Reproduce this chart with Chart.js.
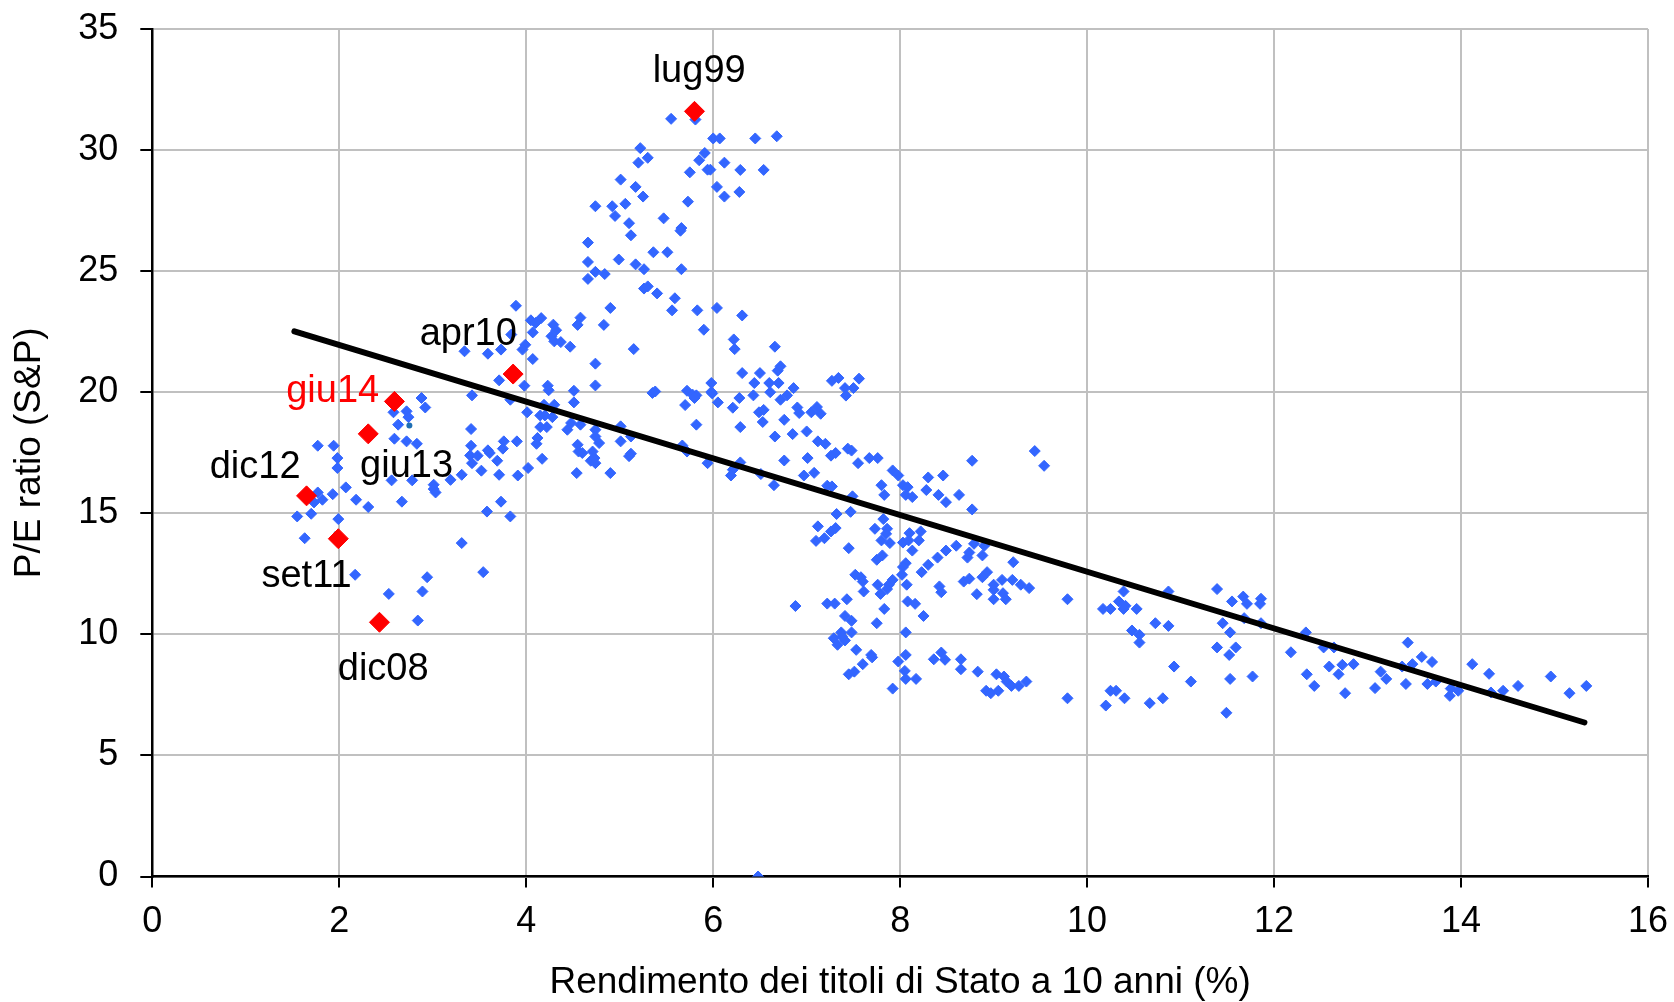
<!DOCTYPE html>
<html>
<head>
<meta charset="utf-8">
<script src="https://cdn.jsdelivr.net/npm/chart.js@4.4.1/dist/chart.umd.min.js"></script>
<style>
  html, body { margin: 0; padding: 0; background: #fff; }
  #wrap { width: 1674px; height: 1002px; }
</style>
</head>
<body>
<div id="wrap"><canvas id="pe" width="1674" height="1002"></canvas></div>
<script>
// monthly observations: [10y bond yield %, S&P P/E]
const history = [
  [3.89,23.57],[4.05,22.97],[4.10,22.86],[4.16,23.06],[4.29,22.79],[4.32,22.56],[4.27,22.31],[4.30,22.10],
  [4.07,22.47],[3.84,22.38],[3.99,21.96],[3.96,21.76],[3.73,21.76],[3.59,21.59],[3.34,21.69],[4.07,21.37],
  [3.71,20.49],[3.98,20.27],[4.23,20.27],[4.24,20.08],[3.83,19.69],[3.42,19.87],[2.88,19.76],[2.92,19.37],
  [2.58,19.17],[2.72,19.21],[2.74,18.97],[2.63,18.66],[4.01,19.17],[4.15,19.04],[4.20,19.04],[4.28,18.97],
  [4.15,18.56],[4.22,18.56],[3.41,18.48],[2.59,18.08],[2.72,17.97],[2.83,17.87],[1.77,17.79],[1.94,17.79],
  [1.98,17.28],[1.98,16.87],[3.76,17.97],[3.90,17.97],[4.12,18.11],[4.11,17.87],[3.41,17.79],[3.59,17.60],
  [3.61,17.49],[3.75,17.67],[3.40,17.39],[3.48,17.38],[3.42,17.07],[3.69,17.17],[4.17,17.25],[4.02,16.87],
  [3.52,16.76],[3.71,16.59],[3.91,16.56],[3.31,16.59],[3.19,16.38],[3.01,16.18],[3.01,16.00],[3.03,15.86],
  [2.78,16.36],[2.56,16.36],[2.07,16.07],[1.93,15.79],[1.77,15.86],[1.82,15.56],[1.73,15.45],[2.18,15.56],
  [2.31,15.26],[2.67,15.48],[1.70,14.98],[1.55,14.87],[1.99,14.76],[3.58,15.07],[3.73,15.48],[3.83,14.87],
  [1.63,13.97],[3.31,13.77],[2.17,12.46],[2.94,12.36],[2.89,11.77],[2.53,11.67],[3.54,12.57],[2.84,10.57],
  [4.19,19.48],[4.30,19.48],
  [5.55,31.29],[5.81,31.26],[6.00,30.48],[6.07,30.48],[6.45,30.48],[6.68,30.57],[5.22,30.08],[5.20,29.48],
  [5.30,29.68],[5.91,29.88],[5.85,29.58],[6.12,29.48],[5.75,29.08],[5.94,29.19],[5.97,29.19],[6.29,29.18],
  [6.54,29.18],[5.01,28.78],[5.17,28.48],[5.25,28.08],[6.04,28.48],[6.12,28.08],[6.28,28.27],[5.73,27.87],
  [4.74,27.68],[4.92,27.68],[5.06,27.78],[4.95,27.28],[5.47,27.18],[5.10,26.98],[5.66,26.78],[5.65,26.67],
  [5.12,26.48],[4.66,26.18],[5.36,25.78],[5.51,25.78],[4.99,25.48],[4.66,25.38],[5.17,25.28],[5.26,25.08],
  [5.66,25.08],[4.74,24.97],[4.84,24.88],[4.66,24.68],[5.26,24.28],[5.30,24.37],[5.40,24.08],[5.59,23.88],
  [4.90,23.48],[4.58,23.08],[4.55,22.78],[4.83,22.78],[5.56,23.38],[5.83,23.38],[6.04,23.48],[6.31,23.17],
  [5.90,22.58],[4.37,22.07],[4.47,21.88],[5.15,21.78],[6.22,22.18],[6.23,21.78],[6.66,21.88],[4.74,21.18],
  [6.31,20.79],[6.50,20.79],[6.69,20.89],[6.72,21.07],[7.27,20.47],[7.34,20.59],
  [4.51,20.06],[4.74,20.28],[5.35,19.97],[5.38,20.03],[5.72,20.06],[5.78,19.90],[5.82,19.87],[5.80,19.76],
  [5.98,20.38],[5.98,20.01],[5.99,19.95],[6.44,20.38],[6.43,19.87],[6.60,20.38],[6.70,20.38],[6.61,20.00],
  [6.72,19.69],[6.79,19.87],[6.86,20.17],[4.51,19.58],[5.70,19.47],[6.05,19.58],[6.21,19.36],[6.28,19.76],
  [6.49,19.17],[6.54,19.27],[6.90,19.37],[6.92,19.14],[7.05,19.17],[7.11,19.39],[7.15,19.11],[4.44,18.45],
  [4.48,18.73],[4.58,18.66],[4.74,18.45],[5.01,18.59],[4.74,18.17],[4.78,17.90],[5.01,17.97],[5.12,18.17],
  [4.55,17.83],[4.56,17.55],[4.60,17.49],[4.71,17.55],[4.69,17.17],[4.74,17.07],[4.73,17.28],[5.12,17.46],
  [5.10,17.36],[4.54,16.66],[4.90,16.66],[5.67,17.80],[5.72,17.55],[5.82,18.66],[5.94,17.07],[6.29,18.56],
  [6.53,18.77],[6.66,18.17],[6.76,18.86],[6.85,18.27],[7.00,18.38],[7.12,17.97],[7.20,17.87],[7.31,17.49],
  [7.26,17.38],[7.01,17.28],[6.76,17.18],[6.21,16.80],[6.19,16.56],[6.29,17.10],[6.51,16.62],[6.65,16.16],
  [6.97,16.56],[7.08,16.67],[7.22,16.14],[7.27,16.11],[7.32,14.97],[7.12,14.46],[7.31,14.39],[7.26,14.25],
  [7.10,13.86],[7.19,13.97],[6.88,11.17],[7.22,11.27],[7.30,11.27],[7.29,9.84],[7.33,9.57],
  [7.56,20.56],[7.41,20.17],[7.50,20.17],[7.42,19.86],[7.44,17.67],[7.48,17.59],[7.55,17.07],[7.67,17.28],
  [7.76,17.28],[7.92,16.77],[7.98,16.56],[7.80,16.16],[7.83,15.76],[8.03,16.16],[8.08,16.08],[8.06,15.76],
  [8.13,15.67],[8.30,16.48],[8.46,16.56],[8.28,15.96],[8.41,15.76],[8.49,15.46],[8.63,15.76],[8.77,17.17],
  [8.77,15.16],[9.44,17.57],[9.54,16.96],[7.49,15.70],[7.47,15.06],[7.73,14.36],[7.82,14.76],[7.86,14.36],
  [7.85,14.15],[7.80,13.88],[7.89,13.77],[8.03,13.79],[8.10,14.18],[8.09,13.88],[8.22,14.25],[8.20,13.88],
  [7.45,13.56],[8.13,13.46],[8.49,13.46],[8.60,13.66],[8.72,13.17],[8.74,13.38],[8.88,13.26],[8.79,13.74],
  [8.90,13.66],[7.75,13.08],[7.81,13.26],[8.06,12.94],[8.03,12.78],[8.02,12.46],[8.40,13.17],[8.30,12.87],
  [8.23,12.57],[9.21,12.98],[8.93,12.57],[8.88,12.36],[7.52,12.46],[7.58,12.36],[7.60,12.18],[7.76,12.05],
  [7.88,12.05],[7.92,12.25],[8.07,12.05],[8.42,11.98],[8.68,12.18],[8.74,12.30],[9.00,12.05],[9.09,12.25],
  [9.20,12.25],[9.29,12.05],[9.38,11.91],
  [7.61,11.77],[7.79,11.67],[7.86,11.87],[8.44,11.74],[8.82,11.66],[9.00,11.84],[9.10,11.70],[9.13,11.45],
  [9.00,11.45],[9.79,11.45],[10.17,11.05],[10.25,11.05],[7.43,11.45],[8.08,11.36],[8.16,11.26],[7.83,11.05],
  [8.25,10.76],[7.41,10.76],[7.48,10.56],[7.75,10.46],[7.37,10.08],[7.48,10.08],[7.41,9.75],[7.38,9.91],
  [8.06,10.08],[7.53,9.36],[7.69,9.15],[7.70,9.05],[7.60,8.77],[7.45,8.35],[7.51,8.46],[8.06,9.15],
  [7.98,8.88],[8.05,8.49],[8.06,8.16],[8.17,8.16],[7.92,7.76],[8.36,8.97],[8.44,9.25],[8.48,8.95],
  [8.65,8.97],[8.65,8.56],[8.83,8.46],[9.03,8.35],[9.11,8.26],[9.14,8.05],[9.19,7.87],[9.27,7.87],
  [9.35,8.05],[8.92,7.67],[8.97,7.57],[9.05,7.67],[9.79,7.36],[10.20,7.06],[10.25,7.67],
  [10.39,11.77],[10.34,11.36],[10.41,11.18],[10.39,11.05],[10.53,11.05],[10.87,11.77],[10.48,10.16],[10.56,9.98],
  [10.56,9.66],[10.73,10.46],[10.87,10.35],[10.93,8.67],[11.11,8.05],[10.31,7.67],[10.40,7.36],[10.67,7.16],
  [10.81,7.36],[11.39,11.87],[11.55,11.36],[11.67,11.56],[11.71,11.26],[11.86,11.47],[11.85,11.26],[11.68,10.67],
  [11.45,10.46],[11.53,10.08],[11.86,10.46],[11.39,9.46],[11.59,9.46],[11.52,9.15],[11.53,8.16],[11.77,8.26],
  [11.49,6.76],[12.34,10.08],[12.18,9.26],[12.53,9.46],[12.64,9.46],[12.73,8.74],[12.59,8.67],[12.85,8.77],
  [12.69,8.35],[12.35,8.35],[12.43,7.87],[12.76,7.57],[13.14,8.46],[13.20,8.16],[13.08,7.78],
  [13.43,9.66],[13.58,9.07],[13.48,8.77],[13.69,8.86],[13.37,8.67],[13.41,7.95],[13.64,7.95],[13.73,8.05],
  [13.89,7.76],[13.88,7.46],[13.97,7.67],[14.12,8.77],[14.30,8.37],[14.32,7.60],[14.45,7.67],[14.61,7.87],
  [14.96,8.26],[15.16,7.57],[15.34,7.87],
  [6.48,0]
];

// two odd darker dots in the source
const latest = [[2.75,18.63],[1.97,14.14]];

// highlighted months
const highlightNames = ['lug99','apr10','giu14','giu13','dic12','set11','dic08'];
const highlightYield = [5.80, 3.86, 2.59, 2.31, 1.65, 1.99, 2.43];
const highlightPE    = [31.6, 20.75, 19.62, 18.28, 15.72, 13.95, 10.5];
// where each name is written, in axis units
const noteX = [5.85, 3.38, 1.93, 2.72, 1.10, 1.65, 2.47];
const noteY = [33.23, 22.39, 20.01, 16.92, 16.88, 12.38, 8.55];
const noteColor = ['#000','#000','#FF0000','#000','#000','#000','#000'];

// regression line end points
const trendYield = [1.52, 15.32];
const trendPE = [22.51, 6.36];

const xMin = 0, xMax = 16, xStep = 2;
const yMin = 0, yMax = 35, yStep = 5;

const FONT = '"Liberation Sans", Arial, sans-serif';

const notesPlugin = {
  id: 'notes',
  afterDatasetsDraw(chart) {
    const ctx = chart.ctx;
    const xs = chart.scales.x, ys = chart.scales.y;
    ctx.save();
    ctx.font = '38px ' + FONT;
    ctx.textAlign = 'center';
    ctx.textBaseline = 'middle';
    highlightNames.forEach((name, i) => {
      ctx.fillStyle = noteColor[i];
      ctx.fillText(name, xs.getPixelForValue(noteX[i]), ys.getPixelForValue(noteY[i]));
    });
    ctx.restore();
  }
};

const toPts = arr => arr.map(p => ({x: p[0], y: p[1]}));

const data = {
  datasets: [
    {
      label: 'highlight',
      data: highlightYield.map((x, i) => ({x: x, y: highlightPE[i]})),
      pointStyle: 'rectRot',
      pointRadius: 10,
      backgroundColor: '#FF0000',
      borderColor: '#FF0000',
      borderWidth: 1,
      order: 0
    },
    {
      label: 'trend',
      type: 'line',
      data: trendYield.map((x, i) => ({x: x, y: trendPE[i]})),
      borderColor: '#000000',
      borderWidth: 6,
      borderCapStyle: 'round',
      pointRadius: 0,
      fill: false,
      order: 1
    },
    {
      label: 'latest',
      data: toPts(latest),
      pointStyle: 'circle',
      pointRadius: 3,
      backgroundColor: '#1F6FB4',
      borderColor: '#1F6FB4',
      borderWidth: 0,
      order: 2
    },
    {
      label: 'history',
      data: toPts(history),
      pointStyle: 'rectRot',
      pointRadius: 5.5,
      backgroundColor: '#3366FF',
      borderColor: '#3366FF',
      borderWidth: 1,
      order: 3
    }
  ]
};

const config = {
  type: 'scatter',
  data: data,
  plugins: [notesPlugin],
  options: {
    responsive: false,
    animation: false,
    devicePixelRatio: 1,
    layout: { padding: { top: 29, right: 26, left: 0, bottom: 0 } },
    plugins: {
      legend: { display: false },
      tooltip: { enabled: false }
    },
    scales: {
      x: {
        type: 'linear',
        min: xMin, max: xMax,
        afterFit: s => { s.height = 125.5; s.paddingLeft = 0; s.paddingRight = 0; },
        ticks: { stepSize: xStep, color: '#000', padding: 13, font: { family: FONT, size: 36 } },
        grid: { color: '#C0C0C0', lineWidth: 2, tickColor: '#000', tickLength: 11, tickWidth: 2 },
        border: { color: '#000', width: 2.5 },
        title: {
          display: true,
          text: 'Rendimento dei titoli di Stato a 10 anni (%)',
          color: '#000',
          font: { family: FONT, size: 37 },
          padding: { top: 0, bottom: -3 }
        }
      },
      y: {
        type: 'linear',
        min: yMin, max: yMax,
        afterFit: s => { s.width = 152.3; s.paddingTop = 0; s.paddingBottom = 0; },
        ticks: { stepSize: yStep, color: '#000', padding: 22, font: { family: FONT, size: 36 } },
        grid: { color: '#C0C0C0', lineWidth: 2, tickColor: '#000', tickLength: 12, tickWidth: 2 },
        border: { color: '#000', width: 2.5 },
        title: {
          display: true,
          text: 'P/E ratio (S&P)',
          color: '#000',
          font: { family: FONT, size: 37 },
          padding: { top: 8, bottom: 0 }
        }
      }
    }
  }
};

new Chart(document.getElementById('pe'), config);
</script>
</body>
</html>
